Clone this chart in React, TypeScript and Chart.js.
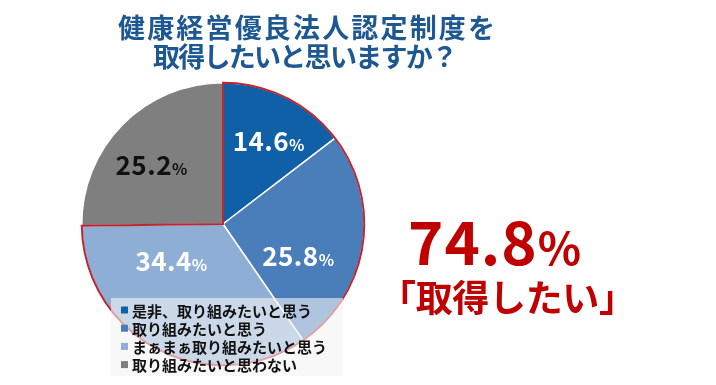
import React, { useEffect, useRef } from "react";
import { Chart, registerables } from "chart.js";

Chart.register(...registerables);

const titleLines = ["健康経営優良法人認定制度を", "取得したいと思いますか？"];
const categories = [
  "是非、取り組みたいと思う",
  "取り組みたいと思う",
  "まぁまぁ取り組みたいと思う",
  "取り組みたいと思わない",
];
const values = [14.6, 25.8, 34.4, 25.2];
const highlightCount = 3; // first three slices = "取得したい"
const calloutText = "「取得したい」";

const sliceColors = ["#1060A8", "#4A7EBB", "#8FAED6", "#7F7F7F"];
const labelColors = ["#FFFFFF", "#FFFFFF", "#FFFFFF", "#111111"];
// label placement tweaks (angle shift in degrees, radius fraction)
const labelAngleShift = [2.6, 14.1, 27.0, -5.5];
const labelRadiusFrac = [0.668, 0.578, 0.45, 0.653];

const FONT = "'Noto Sans CJK JP', 'Noto Sans', sans-serif";
const RED = "#C00000";

function drawFitted(
  ctx: CanvasRenderingContext2D,
  text: string,
  font: string,
  color: string,
  left: number,
  right: number,
  centerY: number
) {
  ctx.save();
  ctx.font = font;
  ctx.fillStyle = color;
  ctx.textAlign = "left";
  ctx.textBaseline = "alphabetic";
  (ctx as any).letterSpacing = "0px";
  const chars = Array.from(text).length;
  const m0 = ctx.measureText(text);
  const w0 = m0.actualBoundingBoxLeft + m0.actualBoundingBoxRight;
  const ls = chars > 1 ? (right - left - w0) / (chars - 1) : 0;
  (ctx as any).letterSpacing = ls.toFixed(2) + "px";
  const m = ctx.measureText(text);
  const x = left + m.actualBoundingBoxLeft;
  const y = centerY + (m.actualBoundingBoxAscent - m.actualBoundingBoxDescent) / 2;
  ctx.fillText(text, x, y);
  ctx.restore();
}

const overlayPlugin = {
  id: "overlay",
  afterDatasetsDraw(chart: any) {
    const ctx: CanvasRenderingContext2D = chart.ctx;
    const arcs = chart.getDatasetMeta(0).data as any[];
    const props = ["x", "y", "startAngle", "endAngle", "outerRadius"];
    const first = arcs[0].getProps(props, true);
    const last = arcs[highlightCount - 1].getProps(props, true);

    // red outline around the "取得したい" group
    ctx.save();
    ctx.beginPath();
    ctx.moveTo(first.x, first.y);
    ctx.arc(first.x, first.y, first.outerRadius, first.startAngle, last.endAngle);
    ctx.closePath();
    ctx.strokeStyle = "#C0262E";
    ctx.lineWidth = 2;
    ctx.lineJoin = "miter";
    ctx.stroke();
    ctx.restore();

    // slice value labels
    arcs.forEach((arc: any, i: number) => {
      const p = arc.getProps(props, true);
      const mid = (p.startAngle + p.endAngle) / 2 + (labelAngleShift[i] * Math.PI) / 180;
      const r = p.outerRadius * labelRadiusFrac[i];
      const cx = p.x + Math.cos(mid) * r;
      const cy = p.y + Math.sin(mid) * r;
      const num = values[i].toFixed(1);
      ctx.save();
      ctx.fillStyle = labelColors[i];
      ctx.textBaseline = "alphabetic";
      ctx.textAlign = "left";
      ctx.font = `bold 26px ${FONT}`;
      (ctx as any).letterSpacing = "0.5px";
      const mNum = ctx.measureText(num);
      ctx.font = `bold 16px ${FONT}`;
      (ctx as any).letterSpacing = "0px";
      const mPct = ctx.measureText("%");
      const total = mNum.width + mPct.width;
      const x0 = cx - total / 2;
      const base = cy + mNum.actualBoundingBoxAscent / 2;
      ctx.font = `bold 26px ${FONT}`;
      (ctx as any).letterSpacing = "0.5px";
      ctx.fillText(num, x0, base);
      ctx.font = `bold 16px ${FONT}`;
      (ctx as any).letterSpacing = "0px";
      ctx.fillText("%", x0 + mNum.width, base);
      ctx.restore();
    });
  },
  afterDraw(chart: any) {
    const ctx: CanvasRenderingContext2D = chart.ctx;

    // legend box (semi-transparent, overlapping the pie)
    ctx.save();
    ctx.fillStyle = "rgba(243,243,243,0.6)";
    ctx.fillRect(111, 298, 232, 78);
    ctx.font = `bold 15px ${FONT}`;
    ctx.textBaseline = "middle";
    ctx.textAlign = "left";
    categories.forEach((c, i) => {
      const y = 310 + i * 18.2;
      ctx.fillStyle = sliceColors[i];
      ctx.fillRect(121, y - 3.5, 7, 7);
      ctx.fillStyle = "#111111";
      ctx.fillText(c, 132, y + 1);
    });
    ctx.restore();

    // title
    drawFitted(ctx, titleLines[0], `bold 27px ${FONT}`, "#1D5893", 118, 493, 27.5);
    drawFitted(ctx, titleLines[1], `bold 27px ${FONT}`, "#1D5893", 153, 452, 56);

    // big red callout
    const total = values.slice(0, highlightCount).reduce((a, b) => a + b, 0).toFixed(1);
    ctx.save();
    ctx.fillStyle = RED;
    ctx.textBaseline = "alphabetic";
    ctx.textAlign = "left";
    ctx.font = `bold 60px ${FONT}`;
    (ctx as any).letterSpacing = "1px";
    const mBig = ctx.measureText(total);
    const xBig = 410 + mBig.actualBoundingBoxLeft;
    ctx.fillText(total, xBig, 265);
    ctx.font = `bold 45px ${FONT}`;
    (ctx as any).letterSpacing = "0px";
    ctx.fillText("%", xBig + mBig.width, 265);
    ctx.restore();

    drawFitted(ctx, calloutText, `bold 37px ${FONT}`, RED, 402, 613, 297);
  },
};

export default function App() {
  const canvasRef = useRef<HTMLCanvasElement | null>(null);

  useEffect(() => {
    if (!canvasRef.current) return;
    const chart = new Chart(canvasRef.current, {
      type: "pie",
      data: {
        labels: categories,
        datasets: [
          {
            data: values,
            backgroundColor: sliceColors,
            borderColor: "#FFFFFF",
            borderWidth: 1.5,
          },
        ],
      },
      options: {
        responsive: false,
        animation: false,
        events: [],
        layout: { padding: { left: 81, right: 351, top: 82, bottom: 19 } },
        plugins: {
          legend: { display: false },
          tooltip: { enabled: false },
          title: { display: false },
        },
      },
      plugins: [overlayPlugin],
    });
    return () => chart.destroy();
  }, []);

  return (
    <div
      style={{
        position: "fixed",
        left: 0,
        top: 0,
        width: 716,
        height: 385,
        background: "#FFFFFF",
      }}
    >
      <canvas ref={canvasRef} width={716} height={385} style={{ display: "block" }} />
    </div>
  );
}
